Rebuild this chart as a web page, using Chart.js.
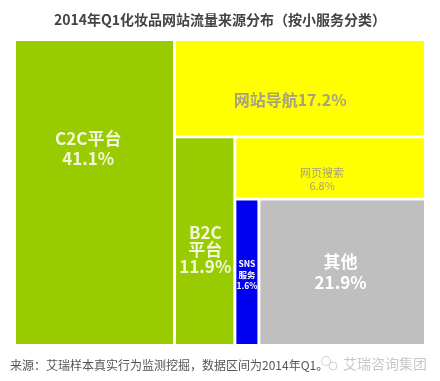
<!DOCTYPE html>
<html>
<head>
<meta charset="utf-8">
<script src="https://cdn.jsdelivr.net/npm/chart.js@4/dist/chart.umd.min.js"></script>
<style>
  html, body { margin: 0; padding: 0; background: #ffffff; }
  #wrap { position: relative; width: 440px; height: 381px; }
</style>
</head>
<body>
<div id="wrap"><canvas id="c" width="440" height="381"></canvas></div>
<script>
// ---------- data ----------
const titleText = '2014年Q1化妆品网站流量来源分布（按小服务分类）';
const sourceNote = '来源：艾瑞样本真实行为监测挖掘，数据区间为2014年Q1。';
const watermark = '艾瑞咨询集团';
const categories = ['C2C平台', '网站导航', 'B2C平台', '网页搜索', 'SNS服务', '其他'];
const sharePct = [41.1, 17.2, 11.9, 6.8, 1.6, 21.9];           // printed shares (%)
const cellAreaPct = [38.9, 19.4, 10.0, 9.4, 2.8, 19.4];        // area each cell takes in the picture (%)
const labelLines = [
  ['C2C平台', '41.1%'],
  ['网站导航17.2%'],
  ['B2C', '平台', '11.9%'],
  ['网页搜索', '6.8%'],
  ['SNS', '服务', '1.6%'],
  ['其他', '21.9%']
];

// ---------- styles ----------
const cellColors = ['#99cc00', '#ffff00', '#99cc00', '#ffff00', '#0000f0', '#bfbfbf'];
const labelColors = ['#f3f5dc', '#a6a27c', '#f3f5dc', '#a6a27c', '#ffffff', '#ffffff'];
const labelFont = [
  {size: 17, weight: 'bold', lh: 20},
  {size: 16, weight: 'bold', lh: 20},
  {size: 17, weight: 'bold', lh: 17},
  {size: 11, weight: 'normal', lh: 13},
  {size: 8.5, weight: 'bold', lh: 11},
  {size: 17, weight: 'bold', lh: 21}
];
const labelAnchor = [[0.46, 0.356], [0.46, 0.63], [0.51, 0.54], [0.457, 0.70], [0.5, 0.52], [0.49, 0.5]];
const CELL_GAP = 3;
const FONT = '"Noto Sans CJK SC", "Noto Sans", sans-serif';

// ---------- slice layout (cut along the longer side) ----------
function sliceLayout(weights, aspect) {
  const rects = [];
  let x0 = 0, y0 = 0, x1 = 1, y1 = 1;
  let remaining = weights.reduce((a, b) => a + b, 0);
  weights.forEach((w, i) => {
    if (i === weights.length - 1) { rects.push({x0, y0, x1, y1}); return; }
    const f = w / remaining;
    const pw = (x1 - x0) * aspect, ph = (y1 - y0);
    if (pw >= ph) {
      const xc = x0 + (x1 - x0) * f;
      rects.push({x0, y0, x1: xc, y1});
      x0 = xc;
    } else {
      const yc = y0 + (y1 - y0) * f;
      rects.push({x0, y0, x1, y1: yc});
      y0 = yc;
    }
    remaining -= w;
  });
  return rects;
}

class SliceMapController extends Chart.DatasetController {
  update(mode) {
    const meta = this._cachedMeta;
    this.updateElements(meta.data, 0, meta.data.length, mode);
  }
  updateElements(elements, start, count, mode) {
    const meta = this._cachedMeta;
    const xs = meta.xScale, ys = meta.yScale;
    const ds = this.getDataset();
    const area = this.chart.chartArea;
    const rects = sliceLayout(ds.cellArea, (area.right - area.left) / (area.bottom - area.top));
    const g = CELL_GAP / 2;
    for (let i = start; i < start + count; i++) {
      const r = rects[i];
      const l = xs.getPixelForValue(r.x0), rr = xs.getPixelForValue(r.x1);
      const t = ys.getPixelForValue(r.y0), b = ys.getPixelForValue(r.y1);
      const props = {
        x: (l + rr) / 2,
        y: t + g,
        base: b - g,
        width: rr - l - 2 * g,
        height: b - t - 2 * g,
        horizontal: false,
        inflateAmount: 0,
        borderSkipped: {},
        options: this.resolveDataElementOptions(i, mode)
      };
      this.updateElement(elements[i], i, props, mode);
    }
  }
}
SliceMapController.id = 'slicemap';
SliceMapController.defaults = { datasetElementType: false, dataElementType: 'bar' };
SliceMapController.overrides = {};
Chart.register(SliceMapController);

const labelPlugin = {
  id: 'cellLabels',
  afterDatasetsDraw(chart) {
    const ctx = chart.ctx;
    const meta = chart.getDatasetMeta(0);
    meta.data.forEach((el, i) => {
      const left = el.x - el.width / 2;
      const top = Math.min(el.y, el.base);
      const h = Math.abs(el.base - el.y);
      const cx = left + el.width * labelAnchor[i][0];
      const cy = top + h * labelAnchor[i][1];
      const lines = labelLines[i];
      const f = labelFont[i];
      ctx.save();
      ctx.fillStyle = labelColors[i];
      ctx.font = f.weight + ' ' + f.size + 'px ' + FONT;
      ctx.textAlign = 'center';
      ctx.textBaseline = 'middle';
      const y0 = cy - (lines.length - 1) * f.lh / 2;
      lines.forEach((ln, k) => ctx.fillText(ln, cx, y0 + k * f.lh));
      ctx.restore();
    });
  },
  afterDraw(chart) {
    const ctx = chart.ctx;
    ctx.save();
    ctx.fillStyle = '#555555';
    ctx.font = '12px ' + FONT;
    ctx.textAlign = 'left';
    ctx.textBaseline = 'middle';
    ctx.fillText(sourceNote, 10, 365);
    // watermark
    ctx.strokeStyle = '#d0d0d0';
    ctx.lineWidth = 1;
    ctx.beginPath(); ctx.arc(326, 361, 4.5, 0, Math.PI * 2); ctx.stroke();
    ctx.beginPath(); ctx.arc(333, 366, 4, 0, Math.PI * 2); ctx.stroke();
    ctx.fillStyle = '#c8c8c8';
    ctx.font = '14px ' + FONT;
    ctx.fillText(watermark, 343, 364);
    ctx.restore();
  }
};

new Chart(document.getElementById('c'), {
  type: 'slicemap',
  data: {
    labels: categories,
    datasets: [{
      data: sharePct,
      cellArea: cellAreaPct,
      backgroundColor: cellColors,
      borderWidth: 0
    }]
  },
  options: {
    responsive: false,
    animation: false,
    events: [],
    layout: { padding: { left: 14.5, right: 14.5, top: 0, bottom: 35.5 } },
    scales: {
      x: { type: 'linear', min: 0, max: 1, display: false },
      y: { type: 'linear', min: 0, max: 1, reverse: true, display: false }
    },
    plugins: {
      legend: { display: false },
      tooltip: { enabled: false },
      title: {
        display: true,
        text: titleText,
        color: '#444444',
        font: { family: FONT, size: 14, weight: 'bold', lineHeight: 1.2 },
        padding: { top: 11.6, bottom: 11.1 }
      }
    }
  },
  plugins: [labelPlugin]
});
</script>
</body>
</html>
